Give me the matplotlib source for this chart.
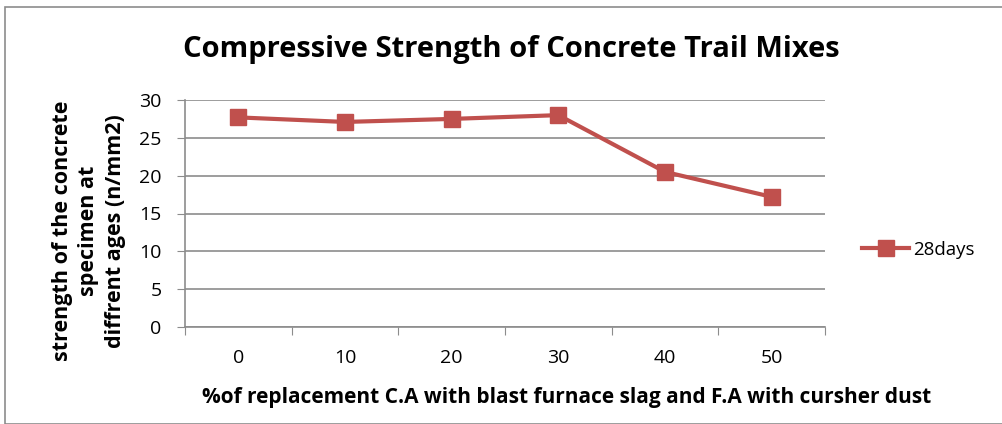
import matplotlib
matplotlib.use("Agg")
import matplotlib.pyplot as plt
from matplotlib.patches import Rectangle
import numpy as np

categories = ["0", "10", "20", "30", "40", "50"]
strength_28days = [27.7, 27.1, 27.5, 28.0, 20.5, 17.2]
y_ticks = [0, 5, 10, 15, 20, 25, 30]

plt.rcParams['font.family'] = ['Open Sans', 'DejaVu Sans']

W, H = 1003, 424
fig = plt.figure(figsize=(W/100, H/100), dpi=100)
fig.patches.append(Rectangle((5/W, 0), 1.2, 1 - 7/H, transform=fig.transFigure,
                             fill=False, edgecolor='#8c8c8c', linewidth=1.2))

ax = fig.add_axes([185/W, 1 - 327/H, 640/W, 227/H])
x = np.arange(len(categories))
line, = ax.plot(x, strength_28days, color='#C0504D', linewidth=3, marker='s',
                markersize=12, markerfacecolor='#C0504D', markeredgecolor='#C0504D',
                label='28days')

ax.set_xlim(-0.5, len(categories) - 0.5)
ax.set_ylim(0, 30)
ax.set_yticks(y_ticks)
ax.set_yticklabels([str(t) for t in y_ticks], fontsize=14)
ax.set_xticks(np.arange(len(categories) + 1) - 0.5)
ax.set_xticklabels([])
ax.set_xticks(x, minor=True)
ax.set_xticklabels(categories, minor=True, fontsize=14)
ax.tick_params(axis='x', which='minor', length=0, pad=16)
ax.tick_params(axis='x', which='major', length=6, color='#8c8c8c', direction='out')
ax.tick_params(axis='y', length=6, color='#8c8c8c', direction='out', pad=11)
ax.grid(axis='y', color='#8c8c8c', linewidth=1.2)
ax.set_axisbelow(True)
for s in ['top', 'right']:
    ax.spines[s].set_visible(False)
for s in ['left', 'bottom']:
    ax.spines[s].set_color('#8c8c8c')
    ax.spines[s].set_linewidth(1.2)

fig.text(511/W, 1 - 50/H, "Compressive Strength of Concrete Trail Mixes",
         ha='center', va='center', fontsize=21, fontweight='bold')
fig.text(567/W, 1 - 397/H,
         "%of replacement C.A with blast furnace slag and F.A with cursher dust",
         ha='center', va='center', fontsize=15, fontweight='bold')
fig.text(89/W, 1 - 231/H,
         "strength of the concrete\nspecimen at\ndiffrent ages (n/mm2)",
         ha='center', va='center', rotation=90, fontsize=15.5, fontweight='bold',
         linespacing=1.35)

fig.legend(handles=[line], loc='center left', bbox_to_anchor=(855/W, 1 - 250/H),
           frameon=False, fontsize=13.5, handlelength=2.5, handletextpad=0.2,
           borderaxespad=0)

fig.savefig("out.png", dpi=100)
